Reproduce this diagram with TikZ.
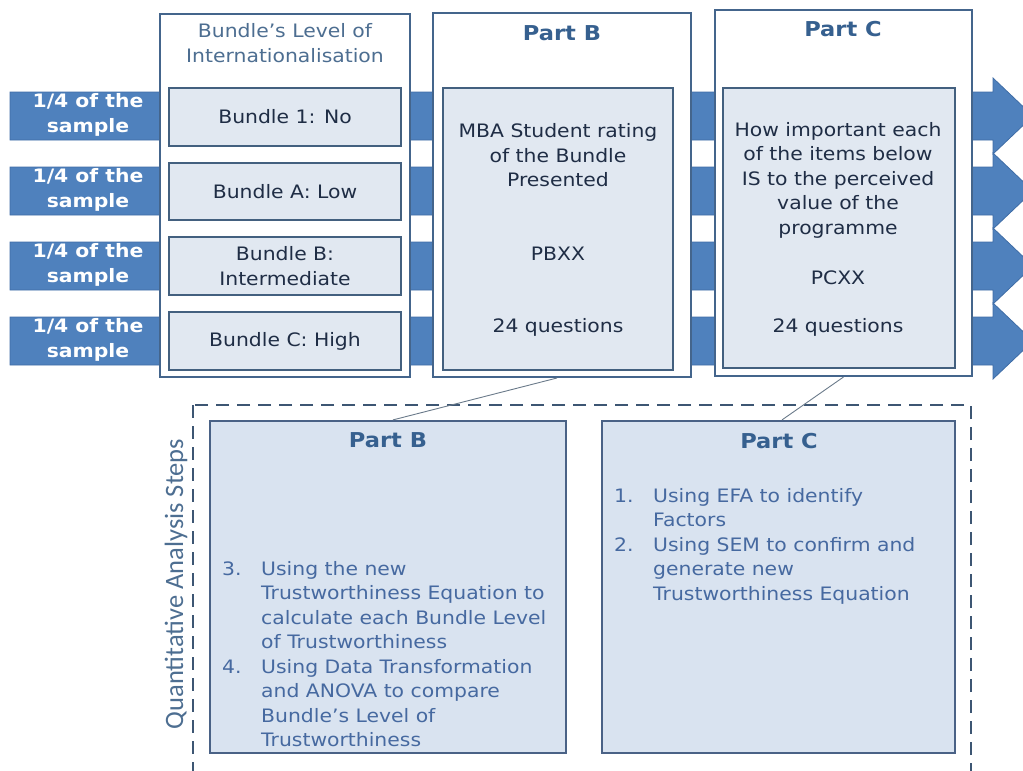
\documentclass[tikz,border=0pt]{standalone}
\usepackage{fontspec}
\setmainfont{DejaVu Sans}[FakeStretch=1.1]
\newfontfamily\sidefont{Carlito}
\usetikzlibrary{calc}

\definecolor{arrowfill}{HTML}{4F81BD}
\definecolor{arrowedge}{HTML}{3F6DA6}
\definecolor{colborder}{HTML}{44658C}
\definecolor{innerfill}{HTML}{E1E8F1}
\definecolor{innerborder}{HTML}{43607F}
\definecolor{lowfill}{HTML}{D9E3F0}
\definecolor{lowborder}{HTML}{4A6286}
\definecolor{headcol}{HTML}{36608F}
\definecolor{softtitle}{HTML}{4D6E91}
\definecolor{darktext}{HTML}{1F2D45}
\definecolor{listcol}{HTML}{4669A0}
\definecolor{framecol}{HTML}{3D5673}
\definecolor{linkcol}{HTML}{6A7A8A}

\begin{document}
\begin{tikzpicture}[x=1pt,y=-1pt,
  colbox/.style={draw=colborder, line width=2pt, fill=white, rectangle, inner sep=0pt},
  innerbox/.style={draw=innerborder, line width=2.4pt, fill=innerfill, rectangle, inner sep=0pt},
  lowbox/.style={draw=lowborder, line width=2.2pt, fill=lowfill, rectangle, inner sep=0pt},
  txt/.style={font=\fontsize{18.5}{24.5}\selectfont, text=darktext, align=center, inner sep=0pt},
  softhead/.style={txt, text=softtitle},
  bighead/.style={font=\fontsize{20.5}{24.5}\selectfont\bfseries, text=headcol, inner sep=0pt},
  qlabel/.style={font=\fontsize{18.5}{24.5}\selectfont\bfseries, text=white, align=center, inner sep=0pt},
  listtext/.style={font=\fontsize{18.5}{24.5}\selectfont, text=listcol, inner sep=0pt, anchor=north west},
  band/.style={fill=arrowfill, draw=arrowedge, line width=0.8pt},
  link/.style={draw=linkcol, line width=0.9pt}
]
\useasboundingbox (0,0) rectangle (1023,771);
\clip (0,0) rectangle (1023,771);

% four sample streams running left to right
\foreach \t in {92,167,242,317} {
  \path[band] (10,\t) -- (993,\t) -- (993,\t-14) -- (1033,\t+24)
    -- (993,\t+62) -- (993,\t+48) -- (10,\t+48) -- cycle;
}
\foreach \i/\y in {1/115,2/190,3/265,4/340} {
  \node[qlabel] (q\i) at (88,\y) {1/4 of the\\sample};
}

% upper columns
\node[colbox, minimum width=250pt, minimum height=363pt] (colA) at (285,195.5) {};
\node[colbox, minimum width=258pt, minimum height=364pt] (colB) at (562,195) {};
\node[colbox, minimum width=257pt, minimum height=366pt] (colC) at (843.5,193) {};

\node[softhead] (titleA) at (285,43) {Bundle’s Level of\\Internationalisation};
\node[bighead] (titleB) at (562,33) {Part B};
\node[bighead] (titleC) at (843,29) {Part C};

% bundle levels
\node[innerbox, minimum width=232pt, minimum height=58pt] (b1) at (285,117) {};
\node[innerbox, minimum width=232pt, minimum height=57pt] (b2) at (285,191.5) {};
\node[innerbox, minimum width=232pt, minimum height=58pt] (b3) at (285,266) {};
\node[innerbox, minimum width=232pt, minimum height=58pt] (b4) at (285,341) {};
\node[txt] (b1t) at (b1) {Bundle 1: No};
\node[txt] (b2t) at (b2) {Bundle A: Low};
\node[txt] (b3t) at (b3) {Bundle B:\\Intermediate};
\node[txt] (b4t) at (b4) {Bundle C: High};

% questionnaire parts
\node[innerbox, minimum width=230pt, minimum height=282pt] (pB) at (558,229) {};
\node[txt] (pB1) at (558,155.5) {MBA Student rating\\of the Bundle\\Presented};
\node[txt] (pB2) at (558,254) {PBXX};
\node[txt] (pB3) at (558,327) {24 questions};

\node[innerbox, minimum width=232pt, minimum height=280pt] (pC) at (839,228) {};
\node[txt] (pC1) at (838,180) {How important each\\of the items below\\IS to the perceived\\value of the\\programme};
\node[txt] (pC2) at (838,278) {PCXX};
\node[txt] (pC3) at (838,327) {24 questions};

% analysis steps
\draw[framecol, line width=2.4pt, dash pattern=on 13pt off 8pt] (193,405) rectangle (971,800);
\node[font=\sidefont\fontsize{26.5}{30}\selectfont, text=softtitle, rotate=90, inner sep=0pt] (steps) at (176,584) {Quantitative Analysis Steps};

\node[lowbox, minimum width=356pt, minimum height=332pt] (lowB) at (388,587) {};
\node[lowbox, minimum width=353pt, minimum height=332pt] (lowC) at (778.5,587) {};
\node[bighead] (lowBt) at (388,440) {Part B};
\node[bighead] (lowCt) at (779,441) {Part C};

\node[listtext] (listB) at (222,558) {\begin{tabular}{@{}l@{}l@{}}
\makebox[39pt][l]{3.} & Using the new\\
 & Trustworthiness Equation to\\
 & calculate each Bundle Level\\
 & of Trustworthiness\\
\makebox[39pt][l]{4.} & Using Data Transformation\\
 & and ANOVA to compare\\
 & Bundle’s Level of\\
 & Trustworthiness
\end{tabular}};

\node[listtext] (listC) at (614,485) {\begin{tabular}{@{}l@{}l@{}}
\makebox[39pt][l]{1.} & Using EFA to identify\\
 & Factors\\
\makebox[39pt][l]{2.} & Using SEM to confirm and\\
 & generate new\\
 & Trustworthiness Equation
\end{tabular}};

% links from the questionnaire parts to their analysis
\draw[link] ([xshift=-5pt]colB.south) -- ([xshift=5pt]lowB.north);
\draw[link] (colC.south) -- ([xshift=3.5pt]lowC.north);
\end{tikzpicture}
\end{document}
